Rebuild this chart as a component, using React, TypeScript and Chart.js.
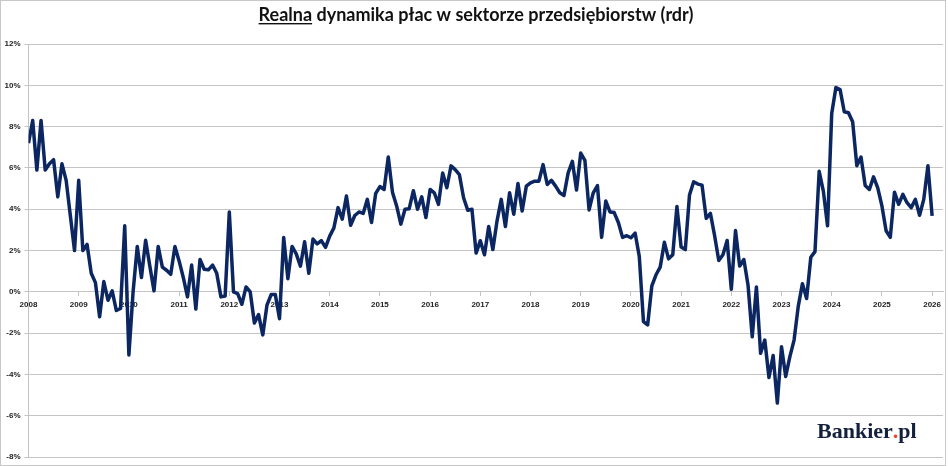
import { useEffect, useRef } from "react";
import { Chart, registerables } from "chart.js";

Chart.register(...registerables);

// realna dynamika płac r/r, %, miesięcznie od 01.2008
const years = [
  2008, 2009, 2010, 2011, 2012, 2013, 2014, 2015, 2016, 2017, 2018, 2019,
  2020, 2021, 2022, 2023, 2024, 2025, 2026,
];

const wages2008 = [7.2, 8.3, 5.9, 8.3, 5.9, 6.2, 6.4, 4.6, 6.2, 5.4, 3.7, 2.0];
const wages2009 = [5.4, 2.0, 2.3, 0.9, 0.45, -1.2, 0.5, -0.4, 0.05, -0.9, -0.8, 3.2];
const wages2010 = [-3.05, 0.0, 2.2, 0.7, 2.5, 1.25, 0.05, 2.2, 1.2, 1.05, 0.85, 2.2];
const wages2011 = [1.5, 0.7, -0.24, 1.3, -0.83, 1.57, 1.1, 1.07, 1.3, 0.9, -0.24, -0.2];
const wages2012 = [3.87, 0.0, -0.08, -0.6, 0.24, 0.0, -1.5, -1.1, -2.08, -0.64, -0.13, -0.13];
const wages2013 = [-1.3, 2.64, 0.64, 2.2, 1.84, 1.25, 2.43, 0.9, 2.56, 2.32, 2.48, 2.16];
const wages2014 = [2.7, 3.1, 4.08, 3.52, 4.64, 3.23, 3.7, 3.87, 3.8, 4.48, 3.36, 4.77];
const wages2015 = [5.1, 4.96, 6.53, 4.83, 4.16, 3.28, 4.0, 4.03, 4.9, 4.0, 4.6, 3.6];
const wages2016 = [4.96, 4.8, 4.24, 5.76, 5.04, 6.1, 5.92, 5.68, 4.56, 3.95, 4.0, 1.88];
const wages2017 = [2.48, 1.8, 3.17, 2.05, 3.44, 4.48, 3.17, 4.8, 3.76, 5.25, 3.92, 5.12];
const wages2018 = [5.28, 5.36, 5.36, 6.16, 5.2, 5.4, 5.12, 4.8, 4.67, 5.76, 6.32, 4.93];
const wages2019 = [6.72, 6.37, 3.97, 4.8, 5.15, 2.64, 4.4, 3.87, 3.84, 3.36, 2.64, 2.72];
const wages2020 = [2.62, 2.85, 1.72, -1.44, -1.6, 0.29, 0.83, 1.2, 2.4, 1.6, 1.8, 4.14];
const wages2021 = [2.17, 2.05, 4.69, 5.33, 5.22, 5.17, 3.56, 3.8, 2.73, 1.52, 1.8, 2.49];
const wages2022 = [0.13, 2.97, 1.25, 1.57, 0.32, -2.17, 0.24, -2.97, -2.33, -4.14, -3.08, -5.38];
const wages2023 = [-2.65, -4.09, -3.13, -2.33, -0.7, 0.4, -0.32, 1.68, 1.95, 5.84, 4.88, 3.2];
const wages2024 = [8.64, 9.89, 9.79, 8.72, 8.67, 8.24, 6.11, 6.53, 5.15, 4.96, 5.57, 5.04];
const wages2025 = [4.16, 2.96, 2.64, 4.83, 4.24, 4.72, 4.32, 4.08, 4.48, 3.71, 4.48, 6.11];
const wages2026 = [3.68];

const wages = [
  ...wages2008, ...wages2009, ...wages2010, ...wages2011, ...wages2012,
  ...wages2013, ...wages2014, ...wages2015, ...wages2016, ...wages2017,
  ...wages2018, ...wages2019, ...wages2020, ...wages2021, ...wages2022,
  ...wages2023, ...wages2024, ...wages2025, ...wages2026,
];

const titleLead = "Realna";
const titleRest = " dynamika płac w sektorze przedsiębiorstw (rdr)";

const lineColor = "#0b2660";
const gridColor = "#c4c4c4";
const labelFont = { family: "'Liberation Sans', Arial", size: 8, weight: "bold" as const };

const decorPlugin = {
  id: "decor",
  afterDraw(chart: Chart) {
    const { ctx, width, height } = chart;
    ctx.save();

    // ramka
    ctx.strokeStyle = "#c8c8c8";
    ctx.lineWidth = 1;
    ctx.strokeRect(0.5, 0.5, width - 3, height - 1);

    // tytuł
    ctx.font = "bold 18px Lato";
    ctx.fillStyle = "#111";
    ctx.textBaseline = "alphabetic";
    const leadW = ctx.measureText(titleLead).width;
    const restW = ctx.measureText(titleRest).width;
    const startX = width / 2 + 2 - (leadW + restW) / 2;
    ctx.fillText(titleLead, startX, 21);
    ctx.fillText(titleRest, startX + leadW, 21);
    ctx.fillRect(startX, 23, leadW, 1.4);

    // logo
    ctx.font = "bold 22px 'Liberation Serif'";
    ctx.fillStyle = "#14213d";
    const brand = "Bankier";
    const brandW = ctx.measureText(brand).width;
    const dotW = ctx.measureText(".").width;
    const lx = 817;
    ctx.fillText(brand, lx, 438);
    ctx.fillStyle = "#e8442a";
    ctx.fillText(".", lx + brandW, 438);
    ctx.fillStyle = "#14213d";
    ctx.fillText("pl", lx + brandW + dotW, 438);

    ctx.restore();
  },
};

export default function App() {
  const canvasRef = useRef<HTMLCanvasElement | null>(null);
  const chartRef = useRef<Chart | null>(null);

  useEffect(() => {
    const canvas = canvasRef.current;
    if (!canvas) {
      return;
    }

    chartRef.current?.destroy();

    chartRef.current = new Chart(canvas, {
      type: "line",
      data: {
        datasets: [
          {
            data: wages.map((v, i) => ({ x: i, y: v })),
            borderColor: lineColor,
            borderWidth: 3.5,
            pointRadius: 0,
            tension: 0,
            borderJoinStyle: "round",
          },
        ],
      },
      options: {
        animation: false,
        responsive: false,
        layout: { padding: { top: 44, right: 5, bottom: 8, left: 0 } },
        plugins: {
          legend: { display: false },
          tooltip: { enabled: false },
        },
        scales: {
          x: {
            type: "linear",
            position: { y: 0 },
            min: 0,
            max: 218.6,
            afterBuildTicks: (scale) => {
              scale.ticks = years.map((_, i) => ({ value: i * 12 }));
            },
            ticks: {
              autoSkip: false,
              maxRotation: 0,
              padding: 4,
              color: "#222",
              font: labelFont,
              callback: (_v, i) => String(years[i]),
            },
            grid: { drawOnChartArea: false, tickLength: 4, color: gridColor },
            border: { color: gridColor },
          },
          y: {
            min: -8,
            max: 12,
            afterFit: (scale) => {
              scale.width = 28.5;
            },
            ticks: {
              stepSize: 2,
              padding: 4,
              color: "#222",
              font: labelFont,
              callback: (v) => `${v}%`,
            },
            grid: { color: gridColor, tickLength: 4 },
            border: { color: gridColor },
          },
        },
      },
      plugins: [decorPlugin],
    });

    return () => {
      chartRef.current?.destroy();
    };
  }, []);

  return (
    <div style={{ position: "fixed", left: 0, top: 0, width: 948, height: 466, background: "#fff" }}>
      <canvas ref={canvasRef} width={948} height={466} />
    </div>
  );
}
